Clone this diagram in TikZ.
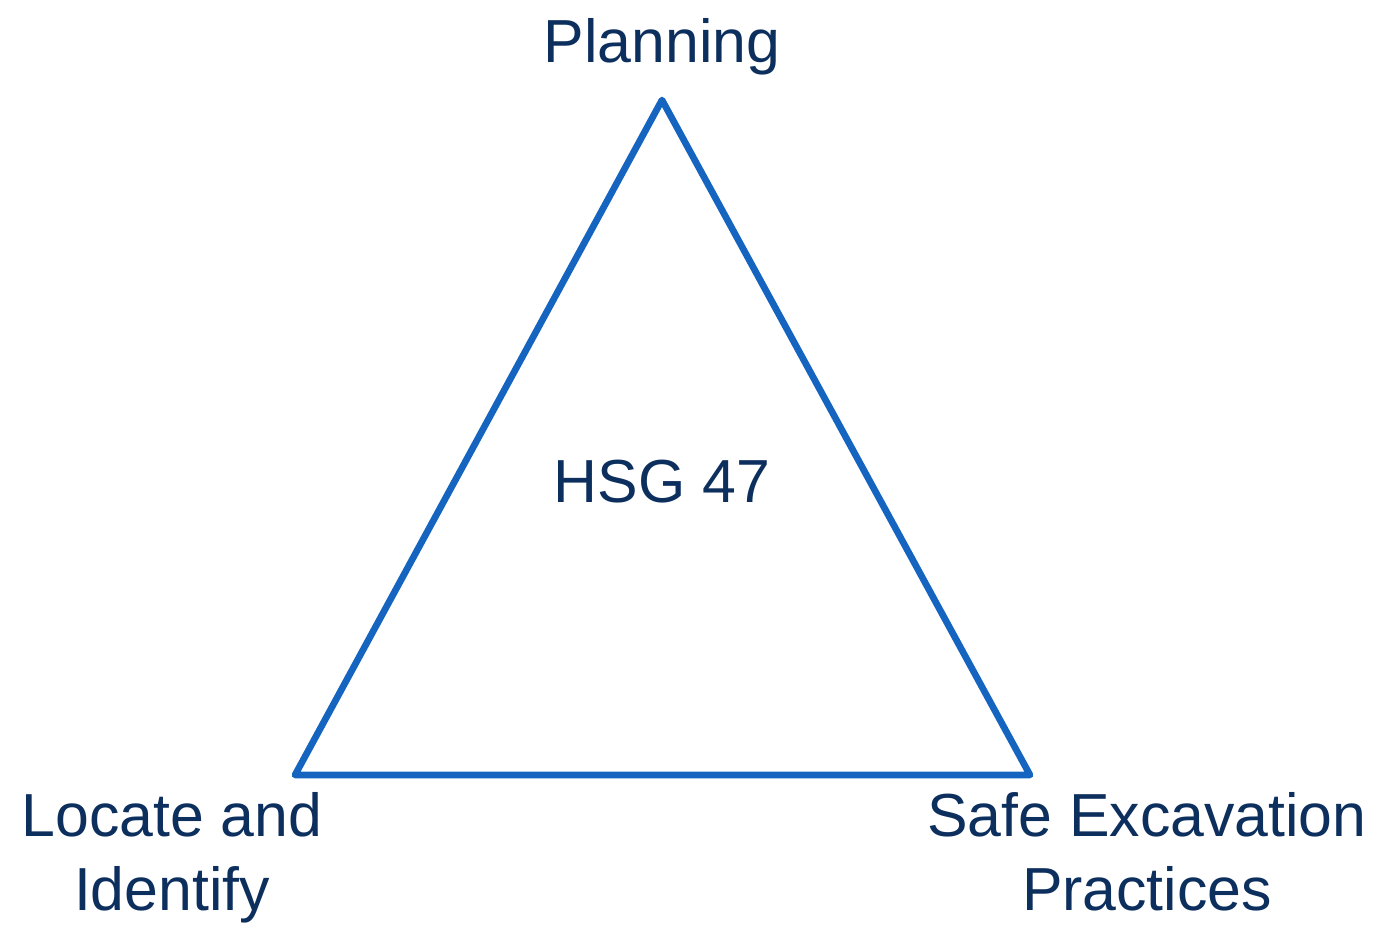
\documentclass[tikz,border=0pt]{standalone}
\usepackage{fontspec}
\setmainfont{Liberation Sans}
\definecolor{triblue}{HTML}{1565C0}
\definecolor{navytext}{HTML}{0D2F5E}
\begin{document}
\begin{tikzpicture}[x=0.02cm, y=-0.02cm,
    lbl/.style={text=navytext, font=\fontsize{34.6}{42}\selectfont, align=center, inner sep=0pt}]
    \useasboundingbox (0,0) rectangle (1373,924);

    \coordinate (top) at (662,100);
    \coordinate (left) at (295,775);
    \coordinate (right) at (1030,775);
    \draw[triblue, line width=3.8pt, line join=round] (top) -- (left) -- (right) -- cycle;

    \node[lbl, anchor=base] (plan) at (662,62) {Planning};
    \node[lbl, anchor=base] (hsg) at (662,502) {HSG 47};
    \node[lbl, anchor=north] (locate) at (172,792) {Locate and\\Identify};
    \node[lbl, anchor=north] (safe) at (1147,792) {Safe Excavation\\Practices};
\end{tikzpicture}
\end{document}
